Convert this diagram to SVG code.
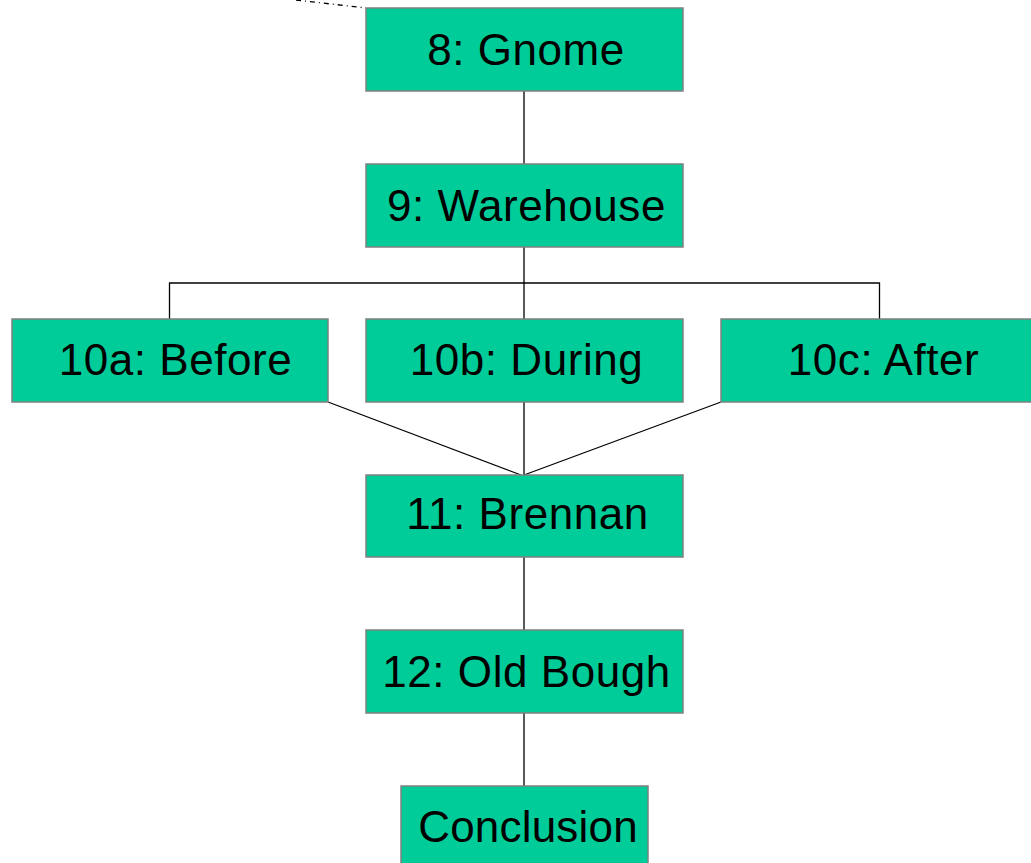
<svg xmlns="http://www.w3.org/2000/svg" width="1031" height="863" viewBox="0 0 1031 863">
<style>
.box{fill:#00CC99;stroke:#808080;stroke-width:1.5}
.lbl{font-family:"Liberation Sans",Arial,sans-serif;font-size:44px;fill:#000;text-anchor:middle;letter-spacing:0.55px}
.ln{fill:none;stroke:#000;stroke-width:1.3}
</style>
<rect width="1031" height="863" fill="#fff"/>
<g id="connectors">
<path class="ln" d="M296,0 L366,8" stroke-dasharray="5,4,1,4"/>
<path class="ln" d="M524,91 V164"/>
<path class="ln" d="M524,247 V319"/>
<path class="ln" d="M169.5,319 V283 H879.5 V319"/>
<path class="ln" d="M328,402 L521,475"/>
<path class="ln" d="M524,402 V475"/>
<path class="ln" d="M721,402 L524,475"/>
<path class="ln" d="M524,557 V630"/>
<path class="ln" d="M524,713 V786"/>
</g>
<g id="n8"><rect class="box" x="366" y="8" width="317" height="83"/><text class="lbl" x="526" y="65">8: Gnome</text></g>
<g id="n9"><rect class="box" x="366" y="164" width="317" height="83"/><text class="lbl" x="526.5" y="221">9: Warehouse</text></g>
<g id="n10a"><rect class="box" x="12" y="319" width="316" height="83"/><text class="lbl" x="175.5" y="375">10a: Before</text></g>
<g id="n10b"><rect class="box" x="366" y="319" width="317" height="83"/><text class="lbl" x="526.5" y="375">10b: During</text></g>
<g id="n10c"><rect class="box" x="721" y="319" width="317" height="83"/><text class="lbl" x="883.5" y="375">10c: After</text></g>
<g id="n11"><rect class="box" x="366" y="475" width="317" height="82"/><text class="lbl" x="527.5" y="529">11: Brennan</text></g>
<g id="n12"><rect class="box" x="366" y="630" width="317" height="83"/><text class="lbl" x="526.5" y="687">12: Old Bough</text></g>
<g id="nConclusion"><rect class="box" x="401" y="786" width="247" height="90"/><text class="lbl" x="528" y="842" style="letter-spacing:0.2px">Conclusion</text></g>
</svg>
